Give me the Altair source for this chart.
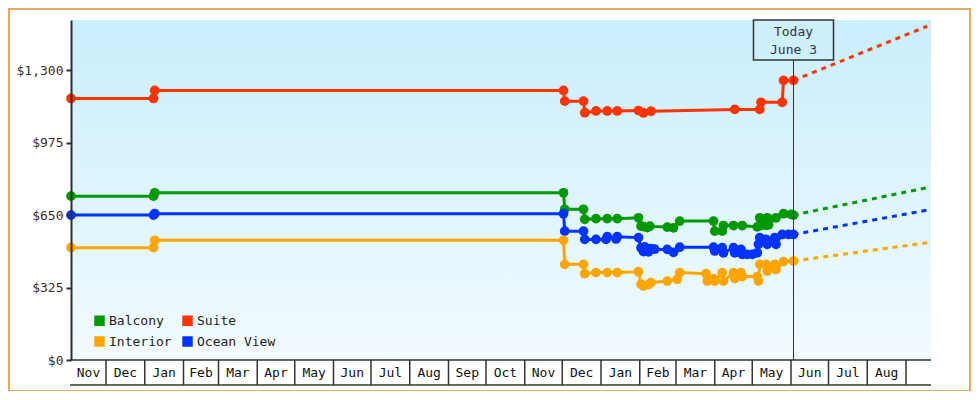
import altair as alt
import pandas as pd

# ---------------- data ----------------
series_names = ["Balcony", "Interior", "Suite", "Ocean View"]
series_colors = ["#009900", "#ffa500", "#ff3300", "#0033ff"]

suite_dates = ["2014-11-03", "2015-01-08", "2015-01-09", "2015-12-02", "2015-12-03",
               "2015-12-18", "2015-12-19", "2015-12-28", "2016-01-06", "2016-01-14",
               "2016-01-31", "2016-02-04", "2016-02-10", "2016-04-17", "2016-05-07",
               "2016-05-08", "2016-05-25", "2016-05-26", "2016-06-03"]
suite_prices = [1173, 1173, 1209, 1209, 1161,
                1161, 1109, 1117, 1117, 1117,
                1119, 1108, 1116, 1124, 1124,
                1156, 1156, 1254, 1254]

balcony_dates = ["2014-11-03", "2015-01-08", "2015-01-09", "2015-12-02", "2015-12-03",
                 "2015-12-18", "2015-12-19", "2015-12-28", "2016-01-06", "2016-01-14",
                 "2016-01-31", "2016-02-02", "2016-02-04", "2016-02-07", "2016-02-09",
                 "2016-02-23", "2016-02-28", "2016-03-04", "2016-03-31", "2016-04-01",
                 "2016-04-07", "2016-04-08", "2016-04-16", "2016-04-23", "2016-05-05",
                 "2016-05-07", "2016-05-08", "2016-05-12", "2016-05-13", "2016-05-14",
                 "2016-05-20", "2016-05-26", "2016-06-01", "2016-06-03"]
balcony_prices = [735, 735, 750, 750, 676,
                  676, 631, 634, 634, 634,
                  638, 601, 598, 594, 600,
                  596, 593, 623, 623, 578,
                  578, 603, 603, 603, 597,
                  638, 604, 604, 638, 606,
                  638, 656, 653, 650]

ocean_dates = ["2014-11-03", "2015-01-08", "2015-01-09", "2015-12-02", "2015-12-03",
               "2015-12-18", "2015-12-19", "2015-12-28", "2016-01-05", "2016-01-06",
               "2016-01-13", "2016-01-14", "2016-01-31", "2016-02-02", "2016-02-04",
               "2016-02-05", "2016-02-08", "2016-02-10", "2016-02-13", "2016-02-23",
               "2016-02-28", "2016-03-04", "2016-03-31", "2016-04-01", "2016-04-07",
               "2016-04-08", "2016-04-16", "2016-04-17", "2016-04-22", "2016-04-23",
               "2016-04-27", "2016-05-01", "2016-05-05", "2016-05-06", "2016-05-07",
               "2016-05-12", "2016-05-13", "2016-05-19", "2016-05-20", "2016-05-25",
               "2016-05-30", "2016-06-03"]
ocean_prices = [650, 650, 656, 656, 578,
                578, 541, 541, 541, 553,
                543, 553, 549, 503, 486,
                507, 485, 500, 497, 496,
                483, 506, 506, 489, 504,
                481, 504, 481, 496, 474,
                474, 474, 481, 519, 549,
                541, 519, 549, 519, 563,
                563, 563]

interior_dates = ["2014-11-03", "2015-01-08", "2015-01-09", "2015-12-02", "2015-12-03",
                  "2015-12-18", "2015-12-19", "2015-12-28", "2016-01-06", "2016-01-14",
                  "2016-01-31", "2016-02-02", "2016-02-04", "2016-02-08", "2016-02-10",
                  "2016-02-23", "2016-03-02", "2016-03-04", "2016-03-25", "2016-03-26",
                  "2016-03-31", "2016-04-01", "2016-04-07", "2016-04-08", "2016-04-16",
                  "2016-04-17", "2016-04-22", "2016-04-23", "2016-05-05", "2016-05-06",
                  "2016-05-07", "2016-05-12", "2016-05-13", "2016-05-19", "2016-05-20",
                  "2016-05-26", "2016-06-03"]
interior_prices = [504, 504, 537, 537, 429,
                   429, 387, 392, 392, 392,
                   396, 340, 332, 338, 347,
                   354, 362, 392, 387, 354,
                   365, 354, 392, 354, 392,
                   365, 392, 374, 374, 354,
                   429, 429, 399, 429, 406,
                   441, 444]

today = "2016-06-03"
today_lines = ["Today", "June 3"]
proj_end = "2016-09-18"
proj_start_values = [650, 444, 1254, 563]   # same order as series_names
proj_end_values = [773, 526, 1497, 672]

domain_start = "2014-11-03"
domain_end = "2016-09-21"
month_labels = ["Nov", "Dec", "Jan", "Feb", "Mar", "Apr", "May", "Jun", "Jul", "Aug",
                "Sep", "Oct", "Nov", "Dec", "Jan", "Feb", "Mar", "Apr", "May", "Jun",
                "Jul", "Aug"]
y_ticks = [0, 325, 650, 975, 1300]
y_max = 1525

# ---------------- tables ----------------
def ts(d):
    return pd.Timestamp(d).strftime("%Y-%m-%dT%H:%M:%S")

rows = []
for name, ds, ps in [("Suite", suite_dates, suite_prices),
                     ("Balcony", balcony_dates, balcony_prices),
                     ("Ocean View", ocean_dates, ocean_prices),
                     ("Interior", interior_dates, interior_prices)]:
    for i, (d, p) in enumerate(zip(ds, ps)):
        rows.append({"series": name, "date": ts(d), "price": p, "idx": i})
hist = pd.DataFrame(rows)

prows = []
for name, a, b in zip(series_names, proj_start_values, proj_end_values):
    prows.append({"series": name, "date": ts(today), "price": a, "idx": 0})
    prows.append({"series": name, "date": ts(proj_end), "price": b, "idx": 1})
proj = pd.DataFrame(prows)

month_starts = list(pd.date_range("2014-12-01", "2016-09-01", freq="MS"))
edges = [pd.Timestamp(domain_start)] + month_starts + [pd.Timestamp(domain_end)]
centers = [edges[i] + (edges[i + 1] - edges[i]) / 2 for i in range(len(month_labels))]
months = pd.DataFrame({"date": [c.strftime("%Y-%m-%dT%H:%M:%S") for c in centers], "label": month_labels})
bounds = pd.DataFrame({"date": [m.strftime("%Y-%m-%dT%H:%M:%S") for m in month_starts]})

today_df = pd.DataFrame({"date": [ts(today)], "l1": [today_lines[0]], "l2": [today_lines[1]]})
one = pd.DataFrame({"a": [0]})

# ---------------- chart ----------------
W, H = 860, 340
FONT = "DejaVu Sans Mono"
xscale = alt.Scale(domain=[alt.DateTime(year=2014, month=11, date=3),
                           alt.DateTime(year=2016, month=9, date=21)])
yscale = alt.Scale(domain=[0, y_max], nice=False)
cscale = alt.Scale(domain=series_names, range=series_colors)
tx = alt.X("date:T", scale=xscale, axis=None)


def yaxis():
    return alt.Axis(title=None, values=y_ticks, format="$,.0f", labelFont=FONT, labelFontSize=13,
                    labelColor="#333333", tickSize=5, tickWidth=2, tickColor="#333333",
                    domainColor="#2d3033", domainWidth=2, grid=False, labelPadding=3, zindex=1)


def ty():
    return alt.Y("price:Q", scale=yscale, axis=yaxis())


border = alt.Chart(one).mark_rect(fill="transparent", stroke="#e8a860", strokeWidth=2).encode(
    x=alt.value(-62), x2=alt.value(W + 39), y=alt.value(-11), y2=alt.value(H + 31))

bg = alt.Chart(one).mark_rect(
    color=alt.Gradient(gradient="linear",
                       stops=[alt.GradientStop(color="#c9eefc", offset=0),
                              alt.GradientStop(color="#f2fbff", offset=1)],
                       x1=0, x2=0, y1=0, y2=1)
).encode(x=alt.value(0), x2=alt.value(W), y=alt.value(0), y2=alt.value(H))

line_layers = []
proj_layers = []
for name, col in zip(series_names, series_colors):
    line_layers.append(
        alt.Chart(hist).transform_filter(alt.datum.series == name)
        .mark_line(strokeWidth=3, color=col)
        .encode(x=tx, y=ty(), order="idx:Q"))
    proj_layers.append(
        alt.Chart(proj).transform_filter(alt.datum.series == name)
        .mark_line(strokeWidth=3, strokeDash=[5, 5], color=col)
        .encode(x=tx, y=ty(), order="idx:Q"))

points = alt.Chart(hist).mark_circle(size=95, opacity=1).encode(
    x=tx, y=ty(),
    color=alt.Color("series:N", scale=cscale,
                    legend=alt.Legend(title=None, orient="none", legendX=22, legendY=294,
                                      columns=2, symbolType="square", symbolSize=110,
                                      symbolStrokeWidth=0, labelFont=FONT, labelFontSize=13,
                                      labelColor="#222222", labelOffset=3, columnPadding=9,
                                      rowPadding=7, padding=0, zindex=2)))

today_rule = alt.Chart(today_df).mark_rule(color="#333333", strokeWidth=1).encode(
    x=tx, y=alt.value(40), y2=alt.value(H))
today_box = alt.Chart(today_df).mark_rect(
    fill="#cdf0fc", stroke="#333333", strokeWidth=1.5, xOffset=-40, x2Offset=40).encode(
    x=tx, x2="date:T", y=alt.value(0), y2=alt.value(40))
today_t1 = alt.Chart(today_df).mark_text(font=FONT, fontSize=13, color="#333333",
                                         baseline="middle").encode(
    x=tx, y=alt.value(12), text="l1:N")
today_t2 = alt.Chart(today_df).mark_text(font=FONT, fontSize=13, color="#333333",
                                         baseline="middle").encode(
    x=tx, y=alt.value(30), text="l2:N")

# month cells below the plot
x_domain_line = alt.Chart(one).mark_rule(color="#333333", strokeWidth=1.5).encode(
    x=alt.value(-1), x2=alt.value(W), y=alt.value(H))
month_ticks = alt.Chart(bounds).mark_rule(color="#333333", strokeWidth=1.5).encode(
    x=tx, y=alt.value(H), y2=alt.value(H + 25))
month_text = alt.Chart(months).mark_text(font=FONT, fontSize=13, color="#111111",
                                         baseline="middle", align="center").encode(
    x=tx, y=alt.value(H + 13), text="label:N")
bottom_rule = alt.Chart(one).mark_rule(color="#333333", strokeWidth=1.5).encode(
    x=alt.value(-1), x2=alt.value(W), y=alt.value(H + 25))

chart = alt.layer(border, bg, *line_layers, points, *proj_layers, today_rule, today_box,
                  today_t1, today_t2, x_domain_line, month_ticks, month_text,
                  bottom_rule).properties(
    width=W, height=H,
    padding={"left": 63, "top": 12, "right": 40, "bottom": 31},
    autosize=alt.AutoSizeParams(type="none"),
    background="white"
).configure_view(stroke=None)

chart.save("out.html", embed_options={"renderer": "svg", "actions": False})
